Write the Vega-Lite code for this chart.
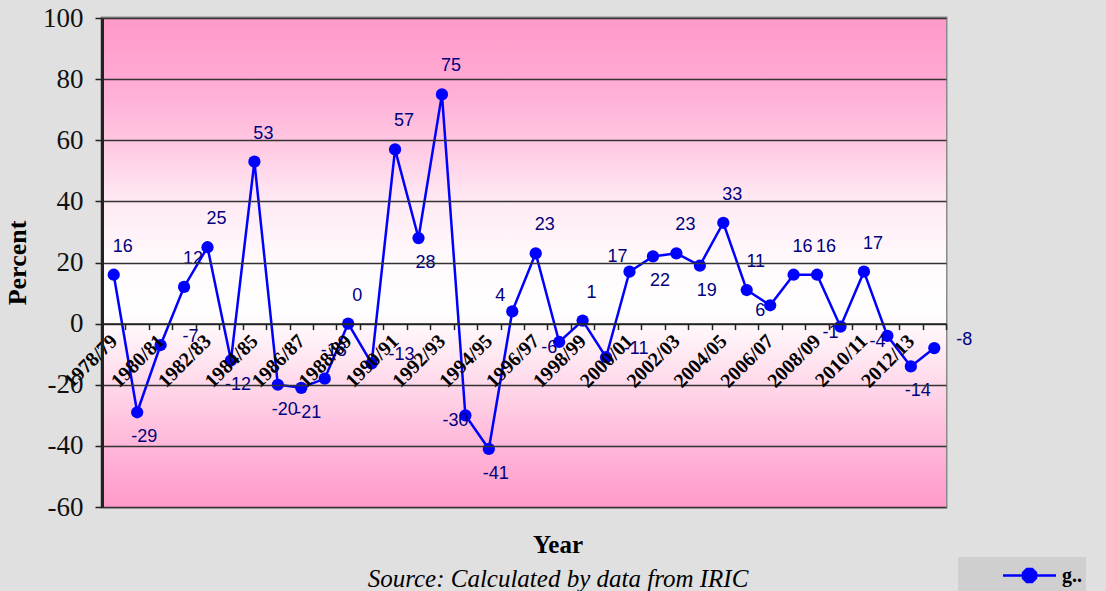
{
  "$schema": "https://vega.github.io/schema/vega-lite/v6.json",
  "width": 844,
  "height": 489,
  "autosize": "none",
  "padding": {"left": 102, "top": 18, "right": 160, "bottom": 84},
  "background": "#e0e0e0",
  "view": {"stroke": "#8a8a8a", "strokeWidth": 3},
  "title": {
    "text": "Year",
    "subtitle": "Source: Calculated by data from IRIC",
    "orient": "bottom",
    "anchor": "middle",
    "dx": 34,
    "offset": -58,
    "font": "Liberation Serif",
    "fontSize": 25,
    "fontWeight": "bold",
    "color": "#000000",
    "subtitleFont": "Liberation Serif",
    "subtitleFontSize": 25,
    "subtitleFontStyle": "italic",
    "subtitleColor": "#000000",
    "subtitlePadding": 9
  },
  "layer": [
    {
      "data": {"values": [{"value": 100, "value2": -60}]},
      "mark": {
        "type": "rect",
        "color": {
          "gradient": "linear", "x1": 0, "y1": 0, "x2": 0, "y2": 1,
          "stops": [
            {"offset": 0, "color": "#ff99c9"},
            {"offset": 0.125, "color": "#ffa9d2"},
            {"offset": 0.25, "color": "#ffc6e1"},
            {"offset": 0.375, "color": "#ffeaf4"},
            {"offset": 0.5, "color": "#fffafc"},
            {"offset": 0.6, "color": "#ffffff"},
            {"offset": 0.63, "color": "#fff8fb"},
            {"offset": 0.75, "color": "#ffd8ea"},
            {"offset": 0.875, "color": "#ffb7d8"},
            {"offset": 1, "color": "#ff9ac9"}
          ]
        }
      },
      "encoding": {
        "y": {"field": "value", "type": "quantitative"},
        "y2": {"field": "value2"}
      }
    },
    {
      "data": {
        "values": [
          {"year": "1978/79", "value": 16, "series": "g.."},
          {"year": "1979/80", "value": -29, "series": "g.."},
          {"year": "1980/81", "value": -7, "series": "g.."},
          {"year": "1981/82", "value": 12, "series": "g.."},
          {"year": "1982/83", "value": 25, "series": "g.."},
          {"year": "1983/84", "value": -12, "series": "g.."},
          {"year": "1984/85", "value": 53, "series": "g.."},
          {"year": "1985/86", "value": -20, "series": "g.."},
          {"year": "1986/87", "value": -21, "series": "g.."},
          {"year": "1987/88", "value": -18, "series": "g.."},
          {"year": "1988/89", "value": 0, "series": "g.."},
          {"year": "1989/90", "value": -13, "series": "g.."},
          {"year": "1990/91", "value": 57, "series": "g.."},
          {"year": "1991/92", "value": 28, "series": "g.."},
          {"year": "1992/93", "value": 75, "series": "g.."},
          {"year": "1993/94", "value": -30, "series": "g.."},
          {"year": "1994/95", "value": -41, "series": "g.."},
          {"year": "1995/96", "value": 4, "series": "g.."},
          {"year": "1996/97", "value": 23, "series": "g.."},
          {"year": "1997/98", "value": -6, "series": "g.."},
          {"year": "1998/99", "value": 1, "series": "g.."},
          {"year": "1999/00", "value": -11, "series": "g.."},
          {"year": "2000/01", "value": 17, "series": "g.."},
          {"year": "2001/02", "value": 22, "series": "g.."},
          {"year": "2002/03", "value": 23, "series": "g.."},
          {"year": "2003/04", "value": 19, "series": "g.."},
          {"year": "2004/05", "value": 33, "series": "g.."},
          {"year": "2005/06", "value": 11, "series": "g.."},
          {"year": "2006/07", "value": 6, "series": "g.."},
          {"year": "2007/08", "value": 16, "series": "g.."},
          {"year": "2008/09", "value": 16, "series": "g.."},
          {"year": "2009/10", "value": -1, "series": "g.."},
          {"year": "2010/11", "value": 17, "series": "g.."},
          {"year": "2011/12", "value": -4, "series": "g.."},
          {"year": "2012/13", "value": -14, "series": "g.."},
          {"year": "2013/14", "value": -8, "series": "g.."}
        ]
      },
      "encoding": {
        "x": {
          "field": "year",
          "type": "ordinal",
          "sort": null,
          "scale": {"type": "point", "padding": 0.5},
          "axis": {
            "title": null,
            "orient": "bottom",
            "offset": -183.4,
            "labelAngle": -45,
            "labelAlign": "right",
            "labelBaseline": "middle",
            "labelFont": "Liberation Serif",
            "labelFontWeight": "bold",
            "labelFontSize": 20,
            "labelColor": "#000000",
            "labelPadding": 8,
            "labelOffset": -11.72,
            "labelExpr": "toNumber(slice(datum.value, 0, 4)) % 2 == 0 ? datum.value : ''",
            "labelOverlap": false,
            "ticks": true,
            "tickOffset": 11.72,
            "tickSize": 6,
            "tickColor": "#222222",
            "tickWidth": 1.5,
            "domainColor": "#222222",
            "domainWidth": 1.5,
            "grid": false,
            "zindex": 1
          }
        },
        "y": {
          "field": "value",
          "type": "quantitative",
          "scale": {"domain": [-60, 100], "nice": false, "zero": false},
          "axis": {
            "title": "Percent",
            "titleFont": "Liberation Serif",
            "titleFontSize": 26,
            "titleFontWeight": "bold",
            "titleColor": "#000000",
            "titlePadding": 12,
            "values": [-60, -40, -20, 0, 20, 40, 60, 80, 100],
            "labelExpr": "'' + datum.value",
            "labelFont": "Liberation Serif",
            "labelFontSize": 27,
            "labelColor": "#111111",
            "labelPadding": 12,
            "tickSize": 7,
            "tickColor": "#222222",
            "tickWidth": 1.5,
            "domainColor": "#222222",
            "domainWidth": 3,
            "grid": true,
            "gridColor": "#333333",
            "gridWidth": 1.5,
            "gridOpacity": 1,
            "zindex": 1
          }
        }
      },
      "layer": [
        {
          "mark": {"type": "line", "strokeWidth": 2.5},
          "encoding": {
            "color": {
              "field": "series",
              "type": "nominal",
              "scale": {"range": ["#0000ff"]},
              "legend": {
                "orient": "none",
                "legendX": 856,
                "legendY": 539,
                "title": " ",
                "titleOrient": "left",
                "titlePadding": 53,
                "fillColor": "#cfcfcf",
                "padding": 4,
                "symbolType": "M-2,0L2,0M0.49,0.2L0.2,0.49L-0.2,0.49L-0.49,0.2L-0.49,-0.2L-0.2,-0.49L0.2,-0.49L0.49,-0.2Z",
                "symbolSize": 702,
                "symbolStrokeWidth": 2.5,
                "symbolFillColor": "#0000ff",
                "symbolStrokeColor": "#0000ff",
                "labelFont": "Liberation Serif",
                "labelFontWeight": "bold",
                "labelFontSize": 20,
                "labelColor": "#000000",
                "labelOffset": 18
              }
            }
          }
        },
        {
          "mark": {"type": "point", "filled": true, "size": 150, "opacity": 1, "color": "#0000ff"},
          "encoding": {}
        },
        {
          "transform": [{"filter": {"field": "year", "oneOf": ["1978/79", "1981/82", "1982/83", "1984/85", "1987/88", "1988/89", "1990/91", "1992/93", "1996/97", "1998/99", "2002/03", "2004/05", "2005/06", "2007/08", "2008/09", "2010/11"]}}],
          "mark": {"type": "text", "dx": 9, "dy": -28, "font": "Liberation Sans", "fontSize": 18, "color": "#000080"},
          "encoding": {"text": {"field": "value", "type": "nominal"}}
        },
        {
          "transform": [{"filter": {"field": "year", "oneOf": ["1979/80", "1983/84", "1985/86", "1986/87", "1991/92", "1994/95", "2001/02", "2003/04", "2012/13"]}}],
          "mark": {"type": "text", "dx": 7, "dy": 25, "font": "Liberation Sans", "fontSize": 18, "color": "#000080"},
          "encoding": {"text": {"field": "value", "type": "nominal"}}
        },
        {
          "transform": [{"filter": {"field": "year", "oneOf": ["1980/81", "1989/90", "1999/00", "2013/14"]}}],
          "mark": {"type": "text", "dx": 30, "dy": -8, "font": "Liberation Sans", "fontSize": 18, "color": "#000080"},
          "encoding": {"text": {"field": "value", "type": "nominal"}}
        },
        {
          "transform": [{"filter": {"field": "year", "oneOf": ["1993/94", "1997/98", "2006/07", "2009/10", "2011/12"]}}],
          "mark": {"type": "text", "dx": -10, "dy": 6, "font": "Liberation Sans", "fontSize": 18, "color": "#000080"},
          "encoding": {"text": {"field": "value", "type": "nominal"}}
        },
        {
          "transform": [{"filter": {"field": "year", "oneOf": ["1995/96", "2000/01"]}}],
          "mark": {"type": "text", "dx": -12, "dy": -15, "font": "Liberation Sans", "fontSize": 18, "color": "#000080"},
          "encoding": {"text": {"field": "value", "type": "nominal"}}
        }
      ]
    }
  ]
}
